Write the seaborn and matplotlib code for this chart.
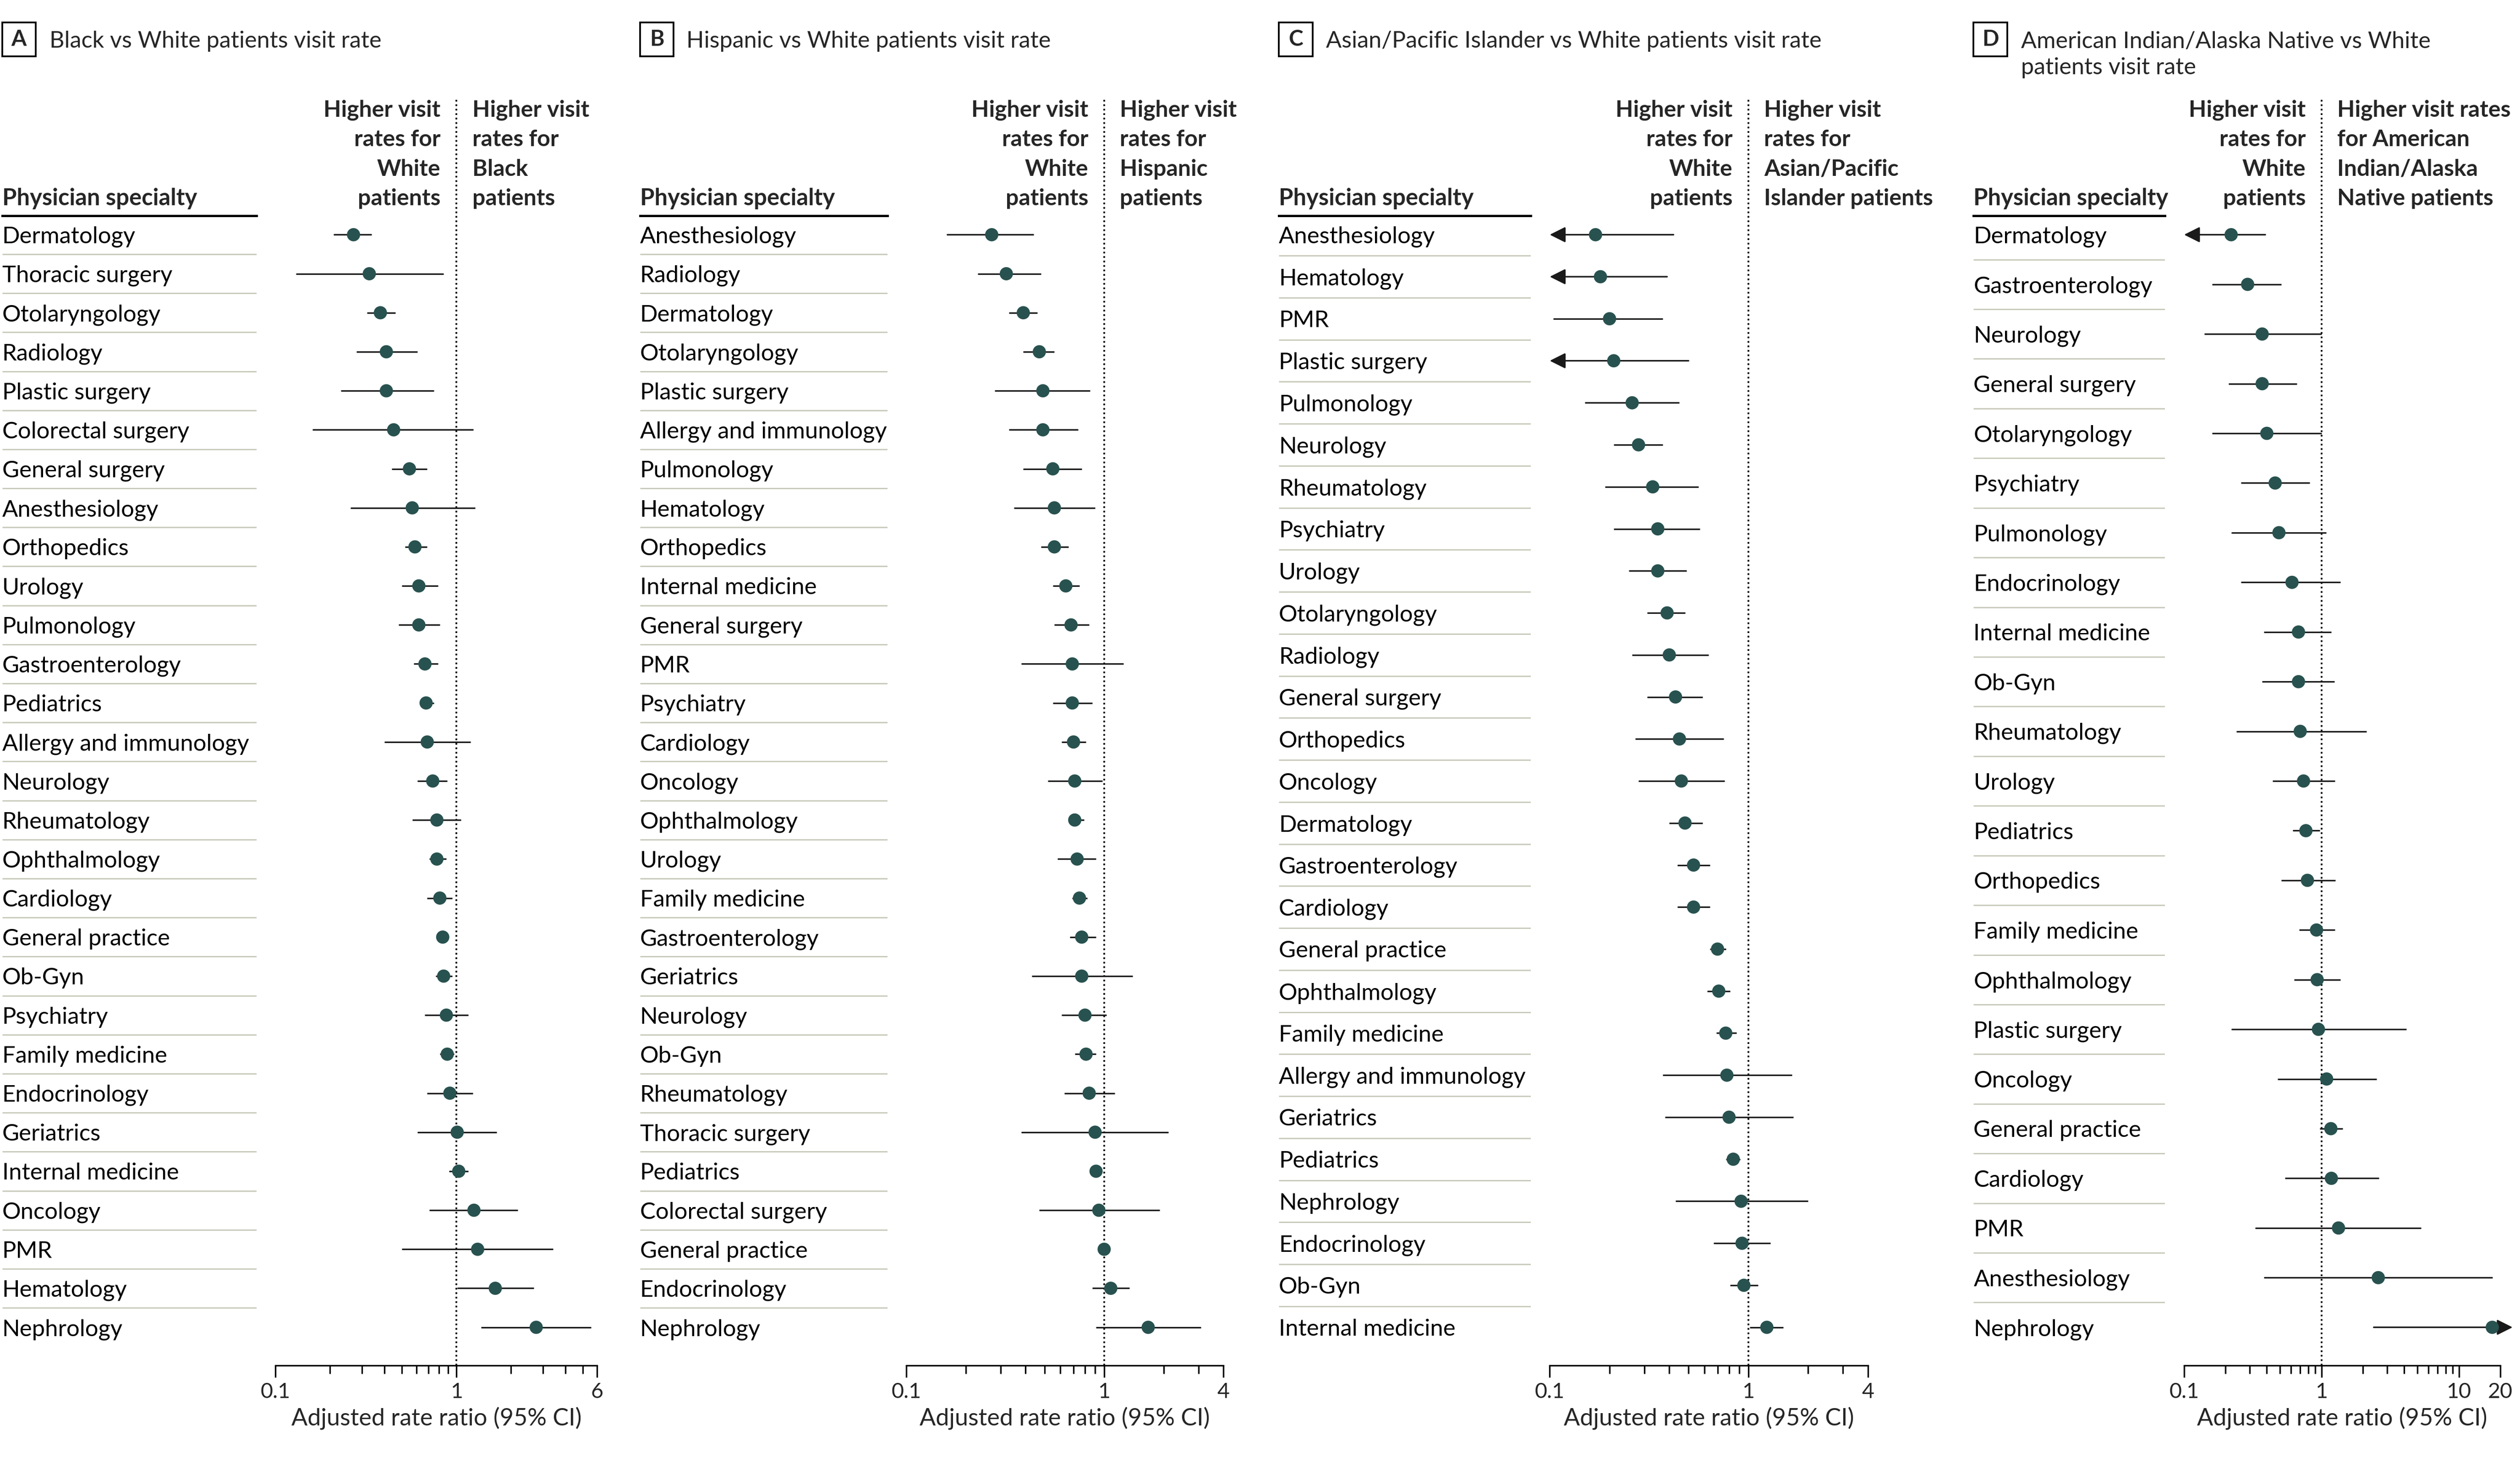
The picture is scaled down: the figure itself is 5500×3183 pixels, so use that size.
import numpy as np
import pandas as pd
import seaborn as sns
import matplotlib.pyplot as plt
from matplotlib.patches import Rectangle
from matplotlib.ticker import FixedLocator, FixedFormatter, NullFormatter

# Adjusted rate ratios (95% CI)

# A: Black vs White
black_specialty = ['Dermatology', 'Thoracic surgery', 'Otolaryngology', 'Radiology', 'Plastic surgery',
                   'Colorectal surgery', 'General surgery', 'Anesthesiology', 'Orthopedics', 'Urology',
                   'Pulmonology', 'Gastroenterology', 'Pediatrics', 'Allergy and immunology', 'Neurology',
                   'Rheumatology', 'Ophthalmology', 'Cardiology', 'General practice', 'Ob-Gyn',
                   'Psychiatry', 'Family medicine', 'Endocrinology', 'Geriatrics', 'Internal medicine',
                   'Oncology', 'PMR', 'Hematology', 'Nephrology']
black_rr = [0.27, 0.33, 0.38, 0.41, 0.41, 0.45, 0.55, 0.57, 0.59, 0.62, 0.62, 0.67, 0.68, 0.69, 0.74,
            0.78, 0.78, 0.81, 0.84, 0.85, 0.88, 0.89, 0.92, 1.01, 1.03, 1.25, 1.31, 1.64, 2.76]
black_lo = [0.21, 0.13, 0.32, 0.28, 0.23, 0.16, 0.44, 0.26, 0.52, 0.50, 0.48, 0.58, 0.63, 0.40, 0.61,
            0.57, 0.71, 0.69, 0.82, 0.77, 0.67, 0.81, 0.69, 0.61, 0.91, 0.71, 0.50, 1.01, 1.37]
black_hi = [0.34, 0.85, 0.46, 0.61, 0.75, 1.24, 0.69, 1.27, 0.69, 0.79, 0.81, 0.79, 0.75, 1.20, 0.89,
            1.06, 0.88, 0.95, 0.87, 0.95, 1.16, 0.97, 1.23, 1.67, 1.16, 2.18, 3.42, 2.67, 5.56]

# B: Hispanic vs White
hisp_specialty = ['Anesthesiology', 'Radiology', 'Dermatology', 'Otolaryngology', 'Plastic surgery',
                  'Allergy and immunology', 'Pulmonology', 'Hematology', 'Orthopedics', 'Internal medicine',
                  'General surgery', 'PMR', 'Psychiatry', 'Cardiology', 'Oncology', 'Ophthalmology',
                  'Urology', 'Family medicine', 'Gastroenterology', 'Geriatrics', 'Neurology', 'Ob-Gyn',
                  'Rheumatology', 'Thoracic surgery', 'Pediatrics', 'Colorectal surgery',
                  'General practice', 'Endocrinology', 'Nephrology']
hisp_rr = [0.27, 0.32, 0.39, 0.47, 0.49, 0.49, 0.55, 0.56, 0.56, 0.64, 0.68, 0.69, 0.69, 0.70, 0.71,
           0.71, 0.73, 0.75, 0.77, 0.77, 0.80, 0.81, 0.84, 0.90, 0.91, 0.94, 1.00, 1.08, 1.67]
hisp_lo = [0.16, 0.23, 0.33, 0.39, 0.28, 0.33, 0.39, 0.35, 0.48, 0.55, 0.56, 0.38, 0.55, 0.61, 0.52,
           0.66, 0.58, 0.69, 0.67, 0.43, 0.61, 0.71, 0.63, 0.38, 0.86, 0.47, 0.96, 0.87, 0.91]
hisp_hi = [0.44, 0.48, 0.46, 0.56, 0.85, 0.74, 0.77, 0.90, 0.66, 0.75, 0.84, 1.25, 0.87, 0.81, 0.98,
           0.79, 0.91, 0.82, 0.91, 1.39, 1.03, 0.91, 1.13, 2.11, 0.95, 1.91, 1.04, 1.34, 3.09]

# C: Asian/Pacific Islander vs White
asian_specialty = ['Anesthesiology', 'Hematology', 'PMR', 'Plastic surgery', 'Pulmonology', 'Neurology',
                   'Rheumatology', 'Psychiatry', 'Urology', 'Otolaryngology', 'Radiology',
                   'General surgery', 'Orthopedics', 'Oncology', 'Dermatology', 'Gastroenterology',
                   'Cardiology', 'General practice', 'Ophthalmology', 'Family medicine',
                   'Allergy and immunology', 'Geriatrics', 'Pediatrics', 'Nephrology', 'Endocrinology',
                   'Ob-Gyn', 'Internal medicine']
asian_rr = [0.17, 0.18, 0.20, 0.21, 0.26, 0.28, 0.33, 0.35, 0.35, 0.39, 0.40, 0.43, 0.45, 0.46, 0.48,
            0.53, 0.53, 0.70, 0.71, 0.77, 0.78, 0.80, 0.84, 0.92, 0.93, 0.95, 1.24]
asian_lo = [0.06, 0.06, 0.104, 0.06, 0.15, 0.21, 0.19, 0.21, 0.25, 0.31, 0.26, 0.31, 0.27, 0.28, 0.40,
            0.44, 0.44, 0.64, 0.62, 0.69, 0.37, 0.38, 0.77, 0.43, 0.67, 0.81, 1.02]
asian_hi = [0.42, 0.39, 0.37, 0.50, 0.45, 0.37, 0.56, 0.57, 0.49, 0.48, 0.63, 0.59, 0.75, 0.76, 0.59,
            0.64, 0.64, 0.77, 0.81, 0.87, 1.66, 1.69, 0.91, 2.00, 1.29, 1.12, 1.50]

# D: American Indian/Alaska Native vs White
aian_specialty = ['Dermatology', 'Gastroenterology', 'Neurology', 'General surgery', 'Otolaryngology',
                  'Psychiatry', 'Pulmonology', 'Endocrinology', 'Internal medicine', 'Ob-Gyn',
                  'Rheumatology', 'Urology', 'Pediatrics', 'Orthopedics', 'Family medicine',
                  'Ophthalmology', 'Plastic surgery', 'Oncology', 'General practice', 'Cardiology',
                  'PMR', 'Anesthesiology', 'Nephrology']
aian_rr = [0.22, 0.29, 0.37, 0.37, 0.40, 0.46, 0.49, 0.61, 0.68, 0.68, 0.70, 0.74, 0.77, 0.79, 0.92,
           0.93, 0.95, 1.09, 1.17, 1.18, 1.33, 2.59, 17.5]
aian_lo = [0.06, 0.16, 0.14, 0.21, 0.16, 0.26, 0.22, 0.26, 0.38, 0.37, 0.24, 0.44, 0.62, 0.51, 0.69,
           0.63, 0.22, 0.48, 0.97, 0.54, 0.33, 0.38, 2.40]
aian_hi = [0.39, 0.51, 1.00, 0.66, 1.00, 0.82, 1.08, 1.37, 1.18, 1.24, 2.12, 1.25, 0.97, 1.26, 1.25,
           1.37, 4.16, 2.52, 1.43, 2.61, 5.31, 17.6, 40.0]

sns.set_theme(style='white')
plt.rcParams['font.family'] = ['Lato', 'DejaVu Sans']

DOT = '#28524f'
INK = '#1a1a1a'
SEP = '#c8cabb'

# layout is worked out on a 1568 x 907 grid and converted to figure fractions
W, H = 1568, 907
def fx(x):
    return x / W
def fy(y):
    return 1 - y / H

ROW_TOP, ROW_BOT = 146.0, 825.7
AX_TOP, AX_BOT = 60.6, 849.5
RULE_Y = 134.3
HEAD_Y0, HEAD_DY = 72.5, 18.4

fig = plt.figure(figsize=(5500 / 300, 3183 / 300), dpi=300)


def ylim_for(n, top):
    s = (ROW_BOT - ROW_TOP) / (n - 1)
    return (n - 1) + (AX_BOT - ROW_BOT) / s, -(ROW_TOP - top) / s


def draw_panel(letter, title_lines, right_head, names, rr, lo, hi,
               lab_x, ax_x, box_x, title_x, xlim, major, major_labels, minor):
    df = pd.DataFrame({'specialty': names, 'rr': rr, 'lo': lo, 'hi': hi})
    df['row'] = np.arange(len(df))
    n = len(df)

    # specialty column
    ax_l = fig.add_axes([fx(lab_x[0]), fy(AX_BOT), fx(lab_x[1] - lab_x[0]), (AX_BOT - RULE_Y) / H])
    ax_l.set_facecolor('none')
    ax_l.set_xlim(0, 1)
    ax_l.set_ylim(*ylim_for(n, RULE_Y))
    for side in ['left', 'right', 'bottom']:
        ax_l.spines[side].set_visible(False)
    ax_l.spines['top'].set_color('black')
    ax_l.spines['top'].set_linewidth(1.2)
    ax_l.set_xticks([])
    ax_l.set_yticks([])
    ax_l.hlines(df['row'].values[:-1] + 0.5, 0, 1, color=SEP, lw=0.7)
    for _, r in df.iterrows():
        ax_l.annotate(r['specialty'], xy=(0, r['row']), xycoords=('axes fraction', 'data'),
                      xytext=(0, -4.4), textcoords='offset points', ha='left', va='baseline',
                      fontsize=12.2, color='black')

    # forest plot
    ax = fig.add_axes([fx(ax_x[0]), fy(AX_BOT), fx(ax_x[1] - ax_x[0]), (AX_BOT - AX_TOP) / H])
    ax.set_facecolor('none')
    ax.set_xscale('log')
    ax.set_xlim(*xlim)
    ax.set_ylim(*ylim_for(n, AX_TOP))
    ax.axvline(1, color='black', lw=0.9, ls=(0, (1, 1.6)), zorder=1)

    ok = (df['lo'] >= xlim[0]) & (df['hi'] <= xlim[1])
    ax.hlines(df.loc[ok, 'row'], df.loc[ok, 'lo'], df.loc[ok, 'hi'], color=INK, lw=0.8, zorder=2)
    arrow = dict(arrowstyle='-|>,head_length=0.5,head_width=0.25', color=INK, lw=0.8,
                 shrinkA=0, shrinkB=0, mutation_scale=14)
    for _, r in df[~ok].iterrows():
        if r['lo'] < xlim[0]:
            ax.annotate('', xy=(xlim[0], r['row']), xytext=(r['hi'], r['row']),
                        arrowprops=arrow, annotation_clip=False, zorder=2)
        else:
            ax.annotate('', xy=(xlim[1] * 1.23, r['row']), xytext=(r['lo'], r['row']),
                        arrowprops=arrow, annotation_clip=False, zorder=2)

    sns.scatterplot(data=df, x='rr', y='row', ax=ax, color=DOT, s=48, edgecolor='none',
                    zorder=4, legend=False, clip_on=False)

    for side in ['left', 'right', 'top']:
        ax.spines[side].set_visible(False)
    ax.spines['bottom'].set_color('black')
    ax.spines['bottom'].set_linewidth(0.8)
    ax.set_yticks([])
    ax.set_ylabel('')
    ax.grid(False)
    ax.xaxis.set_major_locator(FixedLocator(major))
    ax.xaxis.set_major_formatter(FixedFormatter(major_labels))
    ax.xaxis.set_minor_locator(FixedLocator(minor))
    ax.xaxis.set_minor_formatter(NullFormatter())
    ax.tick_params(axis='x', which='major', length=6.3, width=0.8, direction='out',
                   color='black', labelsize=11.2, pad=2.5, bottom=True)
    ax.tick_params(axis='x', which='minor', length=4.2, width=0.8, direction='out',
                   color='black', bottom=True)
    ax.set_xlabel('Adjusted rate ratio (95% CI)', fontsize=12.5, labelpad=2.8)

    # column headers
    fig.text(fx(lab_x[0]), fy(HEAD_Y0 + 3 * HEAD_DY), 'Physician specialty', fontsize=12.2,
             fontweight='bold', ha='left', va='baseline')
    left_head = ['Higher visit', 'rates for', 'White', 'patients']
    for k, line in enumerate(left_head):
        ax.annotate(line, xy=(1, fy(HEAD_Y0 + k * HEAD_DY)), xycoords=('data', 'figure fraction'),
                    xytext=(-8.3, 0), textcoords='offset points', ha='right', va='baseline',
                    fontsize=12.0, fontweight='bold', annotation_clip=False)
    for k, line in enumerate(right_head):
        ax.annotate(line, xy=(1, fy(HEAD_Y0 + k * HEAD_DY)), xycoords=('data', 'figure fraction'),
                    xytext=(8.3, 0), textcoords='offset points', ha='left', va='baseline',
                    fontsize=12.0, fontweight='bold', annotation_clip=False)

    # panel letter and title
    fig.add_artist(Rectangle((fx(box_x), fy(35.0)), fx(21.0), 21.0 / H, transform=fig.transFigure,
                             fill=False, edgecolor='black', lw=0.9))
    fig.text(fx(box_x + 10.5), fy(24.5), letter, fontsize=11.5, fontweight='bold',
             ha='center', va='center')
    for k, line in enumerate(title_lines):
        fig.text(fx(title_x), fy(29.7 + k * 16.6), line, fontsize=12.1, ha='left', va='baseline')


draw_panel('A', ['Black vs White patients visit rate'],
           ['Higher visit', 'rates for', 'Black', 'patients'],
           black_specialty, black_rr, black_lo, black_hi,
           lab_x=(1.3, 159.7), ax_x=(171.4, 371.6), box_x=1.3, title_x=30.9,
           xlim=(0.1, 6), major=[0.1, 1, 6], major_labels=['0.1', '1', '6'],
           minor=[0.2, 0.3, 0.4, 0.5, 0.6, 0.7, 0.8, 0.9, 2, 3, 4, 5])

draw_panel('B', ['Hispanic vs White patients visit rate'],
           ['Higher visit', 'rates for', 'Hispanic', 'patients'],
           hisp_specialty, hisp_rr, hisp_lo, hisp_hi,
           lab_x=(398.2, 552.1), ax_x=(564.0, 761.1), box_x=398.2, title_x=427.0,
           xlim=(0.1, 4), major=[0.1, 1, 4], major_labels=['0.1', '1', '4'],
           minor=[0.2, 0.3, 0.4, 0.5, 0.6, 0.7, 0.8, 0.9, 2, 3])

draw_panel('C', ['Asian/Pacific Islander vs White patients visit rate'],
           ['Higher visit', 'rates for', 'Asian/Pacific', 'Islander patients'],
           asian_specialty, asian_rr, asian_lo, asian_hi,
           lab_x=(795.7, 952.5), ax_x=(964.3, 1162.2), box_x=795.7, title_x=825.1,
           xlim=(0.1, 4), major=[0.1, 1, 4], major_labels=['0.1', '1', '4'],
           minor=[0.2, 0.3, 0.4, 0.5, 0.6, 0.7, 0.8, 0.9, 2, 3])

draw_panel('D', ['American Indian/Alaska Native vs White', 'patients visit rate'],
           ['Higher visit rates', 'for American', 'Indian/Alaska', 'Native patients'],
           aian_specialty, aian_rr, aian_lo, aian_hi,
           lab_x=(1228.0, 1347.0), ax_x=(1359.0, 1555.7), box_x=1228.0, title_x=1257.5,
           xlim=(0.1, 20), major=[0.1, 1, 10, 20], major_labels=['0.1', '1', '10', '20'],
           minor=[0.2, 0.3, 0.4, 0.5, 0.6, 0.7, 0.8, 0.9, 2, 3, 4, 5, 6, 7, 8, 9])

fig.savefig('out.png', dpi=300, facecolor='white')
